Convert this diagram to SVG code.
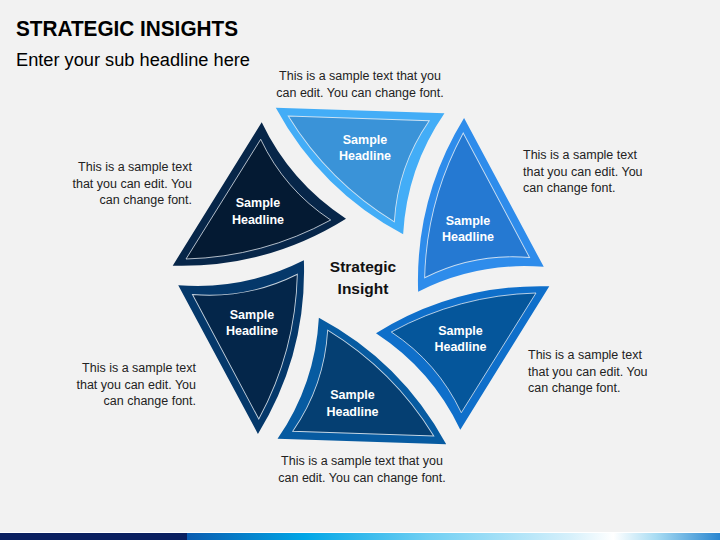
<svg xmlns="http://www.w3.org/2000/svg" width="720" height="540" viewBox="0 0 720 540">
<style>
.ttl{font-family:"Liberation Sans",Arial,sans-serif;font-weight:bold;font-size:22px;fill:#000}
.sub{font-family:"Liberation Sans",Arial,sans-serif;font-size:18px;fill:#000}
.body{font-family:"Liberation Sans",Arial,sans-serif;font-size:12.5px;fill:#222}
.lbl{font-family:"Liberation Sans",Arial,sans-serif;font-weight:bold;font-size:12.5px;fill:#fff;text-anchor:middle}
.ctr{font-family:"Liberation Sans",Arial,sans-serif;font-weight:bold;font-size:15.5px;fill:#111;text-anchor:middle}
.inner{stroke:#e8eef5;stroke-opacity:0.85;stroke-width:0.9}
</style>
<defs>
<path id="outer" d="M -99.3 -153.7 Q -70.7 -93.7 -15 -57.3 Q -94.5 -7.8 -188.3 -10.3 Z"/>
<path id="innerp" d="M -100.3 -136.7 Q -76.6 -86.5 -30.3 -56 Q -98 -19.1 -175 -17 Z"/>
<linearGradient id="stripe" x1="0" y1="0" x2="1" y2="0">
<stop offset="0" stop-color="#0a5cb0"/>
<stop offset="0.22" stop-color="#00a6e6"/>
<stop offset="0.45" stop-color="#6fcff3"/>
<stop offset="0.72" stop-color="#d6f0fb"/>
<stop offset="0.8" stop-color="#ffffff"/>
<stop offset="0.88" stop-color="#a8dcf3"/>
<stop offset="1" stop-color="#2a86d0"/>
</linearGradient>
</defs>
<rect width="720" height="540" fill="#f2f2f2"/>
<rect x="0" y="532" width="720" height="1" fill="#ffffff"/>
<rect x="0" y="533" width="187" height="7" fill="#0a2060"/>
<rect x="187" y="533" width="533" height="7" fill="url(#stripe)"/>

<text class="ttl" x="16" y="36" textLength="222" lengthAdjust="spacingAndGlyphs">STRATEGIC INSIGHTS</text>
<text class="sub" x="16" y="66" textLength="234" lengthAdjust="spacingAndGlyphs">Enter your sub headline here</text>

<g id="node1">
<g transform="translate(361 276)"><use href="#outer" fill="#072649"/><use href="#innerp" class="inner" fill="#041a33"/></g>
<text class="lbl" x="258" y="207">Sample</text><text class="lbl" x="258" y="224">Headline</text>
</g>
<g id="node2">
<g transform="translate(361 276) rotate(60)"><use href="#outer" fill="#43adf7"/><use href="#innerp" class="inner" fill="#3a93d8"/></g>
<text class="lbl" x="365" y="143.5">Sample</text><text class="lbl" x="365" y="160">Headline</text>
</g>
<g id="node3">
<g transform="translate(361 276) rotate(120)"><use href="#outer" fill="#2e8ceb"/><use href="#innerp" class="inner" fill="#2579d2"/></g>
<text class="lbl" x="468" y="224.5">Sample</text><text class="lbl" x="468" y="241">Headline</text>
</g>
<g id="node4">
<g transform="translate(361 276) rotate(180)"><use href="#outer" fill="#0f6fca"/><use href="#innerp" class="inner" fill="#05569b"/></g>
<text class="lbl" x="460.5" y="334.5">Sample</text><text class="lbl" x="460.5" y="351">Headline</text>
</g>
<g id="node5">
<g transform="translate(361 276) rotate(240)"><use href="#outer" fill="#075ba1"/><use href="#innerp" class="inner" fill="#053f72"/></g>
<text class="lbl" x="352.5" y="399">Sample</text><text class="lbl" x="352.5" y="415.5">Headline</text>
</g>
<g id="node6">
<g transform="translate(361 276) rotate(300)"><use href="#outer" fill="#05386a"/><use href="#innerp" class="inner" fill="#04264a"/></g>
<text class="lbl" x="252" y="318.5">Sample</text><text class="lbl" x="252" y="335">Headline</text>
</g>
<g id="center">
<text class="ctr" x="363" y="272">Strategic</text><text class="ctr" x="363" y="293.5">Insight</text>
</g>
<g id="connectors"/>

<g id="texts">
<text class="body" x="360" y="80" text-anchor="middle">This is a sample text that you</text>
<text class="body" x="360" y="97" text-anchor="middle">can edit. You can change font.</text>
<text class="body" x="192" y="171" text-anchor="end">This is a sample text</text>
<text class="body" x="192" y="188" text-anchor="end">that you can edit. You</text>
<text class="body" x="192" y="204" text-anchor="end">can change font.</text>
<text class="body" x="523" y="159">This is a sample text</text>
<text class="body" x="523" y="176">that you can edit. You</text>
<text class="body" x="523" y="192">can change font.</text>
<text class="body" x="528" y="359">This is a sample text</text>
<text class="body" x="528" y="376">that you can edit. You</text>
<text class="body" x="528" y="392">can change font.</text>
<text class="body" x="196" y="372" text-anchor="end">This is a sample text</text>
<text class="body" x="196" y="389" text-anchor="end">that you can edit. You</text>
<text class="body" x="196" y="405" text-anchor="end">can change font.</text>
<text class="body" x="362" y="465" text-anchor="middle">This is a sample text that you</text>
<text class="body" x="362" y="482" text-anchor="middle">can edit. You can change font.</text>
</g>
</svg>
